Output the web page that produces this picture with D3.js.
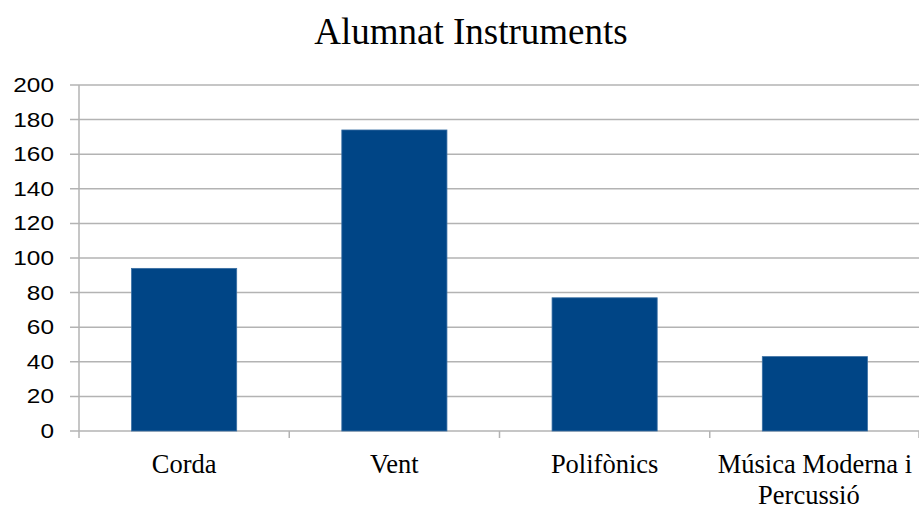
<!DOCTYPE html>
<html><head><meta charset="utf-8">
<script src="https://cdn.jsdelivr.net/npm/d3@7"></script>
<style>body{margin:0;background:#fff;}</style>
</head><body>
<svg id="c" width="919" height="509"></svg>
<script>
const categories = ["Corda", "Vent", "Polifònics", "Música Moderna i Percussió"];
const values = [94, 174, 77, 43];
const yTicks = [0, 20, 40, 60, 80, 100, 120, 140, 160, 180, 200];
const title = "Alumnat Instruments";

const svg = d3.select("#c");
const m = {left: 79, right: 920, top: 85, bottom: 431};
const x = d3.scaleBand().domain(categories).range([m.left, m.right]).paddingInner(0.5).paddingOuter(0.25);
const y = d3.scaleLinear().domain([0, 200]).range([m.bottom, m.top]);

// gridlines
svg.append("g").selectAll("line").data(yTicks).join("line")
  .attr("x1", m.left - 9).attr("x2", m.right)
  .attr("y1", d => y(d)).attr("y2", d => y(d))
  .attr("stroke", "#b3b3b3").attr("stroke-width", 1.5);

// y axis line
svg.append("line").attr("x1", m.left).attr("x2", m.left).attr("y1", m.top).attr("y2", m.bottom + 7)
  .attr("stroke", "#b3b3b3").attr("stroke-width", 1.5);

// y labels
svg.append("g").selectAll("text").data(yTicks).join("text")
  .attr("transform", d => `translate(54,${y(d)}) scale(1.22,1)`)
  .attr("dy", "0.35em")
  .attr("text-anchor", "end")
  .attr("font-family", "'Liberation Sans', Arial, sans-serif").attr("font-size", 20)
  .attr("fill", "#000").text(d => d);

// category ticks
const step = x.step();
const bounds = categories.map((c, i) => m.left + i * step).concat([m.right - 1]);
svg.append("g").selectAll("line").data(bounds.slice(1)).join("line")
  .attr("x1", d => d).attr("x2", d => d).attr("y1", m.bottom).attr("y2", m.bottom + 7)
  .attr("stroke", "#b3b3b3").attr("stroke-width", 1.5);

// bars
svg.append("g").selectAll("rect").data(values).join("rect")
  .attr("x", (d, i) => x(categories[i]))
  .attr("width", x.bandwidth())
  .attr("y", d => y(d))
  .attr("height", d => y(0) - y(d))
  .attr("fill", "#004586")
  .attr("stroke", "#3a6fa3").attr("stroke-width", 0.8);

// category labels
const lab = svg.append("g").attr("font-family", "'Liberation Serif', 'Times New Roman', serif")
  .attr("font-size", 26.5).attr("fill", "#000").attr("text-anchor", "middle");
const wrap = {"Música Moderna i Percussió": ["Música Moderna i", "Percussió"]};
categories.forEach(c => {
  const lines = wrap[c] || [c];
  const cx = x(c) + x.bandwidth() / 2;
  const t = lab.append("text").attr("x", cx).attr("y", 473);
  lines.forEach((l, i) => t.append("tspan").attr("x", i ? cx - 6 : cx).attr("dy", i ? 31 : 0).text(l));
});

// title
svg.append("text").attr("x", 471).attr("y", 44).attr("text-anchor", "middle")
  .attr("font-family", "'Liberation Serif', 'Times New Roman', serif")
  .attr("font-size", 37).attr("fill", "#000").text(title);
</script>
</body></html>
